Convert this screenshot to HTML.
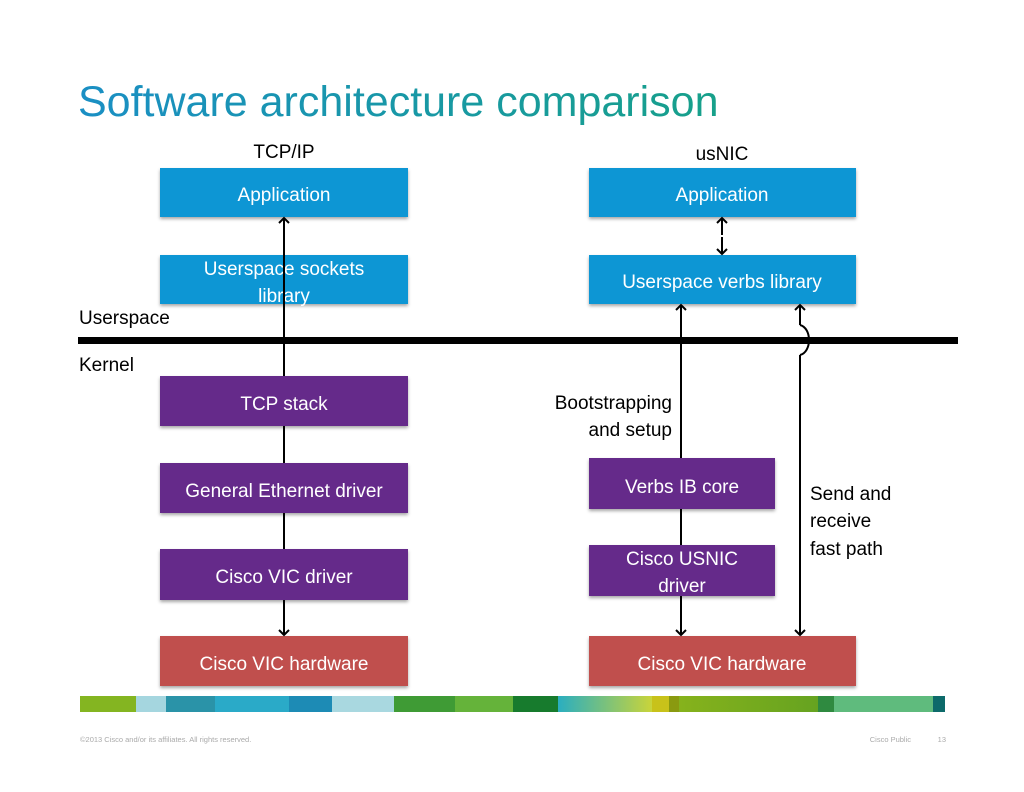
<!DOCTYPE html>
<html><head><meta charset="utf-8"><style>
html,body{margin:0;padding:0;background:#fff;width:1024px;height:792px;overflow:hidden}
svg{display:block}
text{font-family:"Liberation Sans","DejaVu Sans",sans-serif}
</style></head><body>
<svg width="1024" height="792" viewBox="0 0 1024 792" xmlns="http://www.w3.org/2000/svg">
<defs>
<linearGradient id="tg" x1="0" x2="1"><stop offset="0" stop-color="#1a8fc4"/><stop offset="1" stop-color="#17a08a"/></linearGradient>
<linearGradient id="g1" x1="0" x2="1"><stop offset="0" stop-color="#2aaec0"/><stop offset="1" stop-color="#c9d43a"/></linearGradient>
<linearGradient id="g2" x1="0" x2="1"><stop offset="0" stop-color="#86b21c"/><stop offset="1" stop-color="#66a320"/></linearGradient>
<filter id="sh" x="-5%" y="-10%" width="110%" height="130%"><feDropShadow dx="0" dy="2" stdDeviation="1.5" flood-color="#000" flood-opacity="0.35"/></filter>
<marker id="ah" markerWidth="12" markerHeight="12" refX="6" refY="6" orient="auto" markerUnits="userSpaceOnUse"><path d="M1,1 L6,6 L1,11" fill="none" stroke="#000" stroke-width="2"/></marker>
</defs>
<text x="78" y="116" font-size="43" fill="url(#tg)">Software architecture comparison</text>
<text x="284" y="158" font-size="19" text-anchor="middle">TCP/IP</text>
<text x="722" y="160" font-size="19" text-anchor="middle">usNIC</text>
<text x="79" y="324" font-size="19">Userspace</text>
<text x="79" y="371" font-size="19">Kernel</text>
<rect x="78" y="337" width="880" height="7" fill="#000"/>
<g filter="url(#sh)">
<rect x="160" y="168" width="248" height="49" fill="#0996d4"/>
<rect x="160" y="255" width="248" height="49" fill="#0996d4"/>
<rect x="160" y="376" width="248" height="50" fill="#652c8a"/>
<rect x="160" y="463" width="248" height="50" fill="#652c8a"/>
<rect x="160" y="549" width="248" height="51" fill="#652c8a"/>
<rect x="160" y="636" width="248" height="50" fill="#c0504e"/>
<rect x="589" y="168" width="267" height="49" fill="#0996d4"/>
<rect x="589" y="255" width="267" height="49" fill="#0996d4"/>
<rect x="589" y="458" width="186" height="51" fill="#652c8a"/>
<rect x="589" y="545" width="186" height="51" fill="#652c8a"/>
<rect x="589" y="636" width="267" height="50" fill="#c0504e"/>
</g>
<g fill="#fff" font-size="19" text-anchor="middle">
<text x="284" y="201">Application</text>
<text x="284" y="275">Userspace sockets</text>
<text x="284" y="302">library</text>
<text x="284" y="410">TCP stack</text>
<text x="284" y="497">General Ethernet driver</text>
<text x="284" y="583">Cisco VIC driver</text>
<text x="284" y="670">Cisco VIC hardware</text>
<text x="722" y="201">Application</text>
<text x="722" y="288">Userspace verbs library</text>
<text x="682" y="493">Verbs IB core</text>
<text x="682" y="565">Cisco USNIC</text>
<text x="682" y="592">driver</text>
<text x="722" y="670">Cisco VIC hardware</text>
</g>
<g stroke="#000" stroke-width="2" fill="none">
<line x1="284" y1="376" x2="284" y2="218" marker-end="url(#ah)"/>
<line x1="284" y1="426" x2="284" y2="463"/>
<line x1="284" y1="513" x2="284" y2="549"/>
<line x1="284" y1="600" x2="284" y2="635" marker-end="url(#ah)"/>
<line x1="722" y1="235" x2="722" y2="218" marker-end="url(#ah)"/>
<line x1="722" y1="237" x2="722" y2="254" marker-end="url(#ah)"/>
<line x1="681" y1="458" x2="681" y2="305" marker-end="url(#ah)"/>
<line x1="681" y1="509" x2="681" y2="545"/>
<line x1="681" y1="596" x2="681" y2="635" marker-end="url(#ah)"/>
<line x1="800" y1="635" x2="800" y2="355"/>
<path d="M800,355 C812,352 812,328 800,325" />
<line x1="800" y1="325" x2="800" y2="305" marker-end="url(#ah)"/>
<line x1="800" y1="600" x2="800" y2="635" marker-end="url(#ah)"/>
</g>
<g font-size="19" text-anchor="end">
<text x="672" y="409">Bootstrapping</text>
<text x="672" y="436">and setup</text>
</g>
<g font-size="19">
<text x="810" y="500">Send and</text>
<text x="810" y="527">receive</text>
<text x="810" y="555">fast path</text>
</g>
<g>
<rect x="80" y="696" width="56" height="16" fill="#84b521"/>
<rect x="136" y="696" width="30" height="16" fill="#a5d6df"/>
<rect x="166" y="696" width="49" height="16" fill="#2a93a8"/>
<rect x="215" y="696" width="74" height="16" fill="#2aaac8"/>
<rect x="289" y="696" width="43" height="16" fill="#1d8bb5"/>
<rect x="332" y="696" width="62" height="16" fill="#a9d8e0"/>
<rect x="394" y="696" width="61" height="16" fill="#3f9b35"/>
<rect x="455" y="696" width="58" height="16" fill="#65b33a"/>
<rect x="513" y="696" width="45" height="16" fill="#177b2d"/>
<rect x="558" y="696" width="94" height="16" fill="url(#g1)"/>
<rect x="652" y="696" width="17" height="16" fill="#c8c21a"/>
<rect x="669" y="696" width="10" height="16" fill="#8a9a10"/>
<rect x="679" y="696" width="139" height="16" fill="url(#g2)"/>
<rect x="818" y="696" width="16" height="16" fill="#2f8a40"/>
<rect x="834" y="696" width="99" height="16" fill="#5fbb7d"/>
<rect x="933" y="696" width="12" height="16" fill="#0d6a6a"/>
</g>
<text x="80" y="742" font-size="7.5" fill="#aaa">©2013 Cisco and/or its affiliates. All rights reserved.</text>
<text x="911" y="742" font-size="7.5" fill="#aaa" text-anchor="end">Cisco Public</text>
<text x="946" y="742" font-size="7.5" fill="#aaa" text-anchor="end">13</text>
</svg>
</body></html>
